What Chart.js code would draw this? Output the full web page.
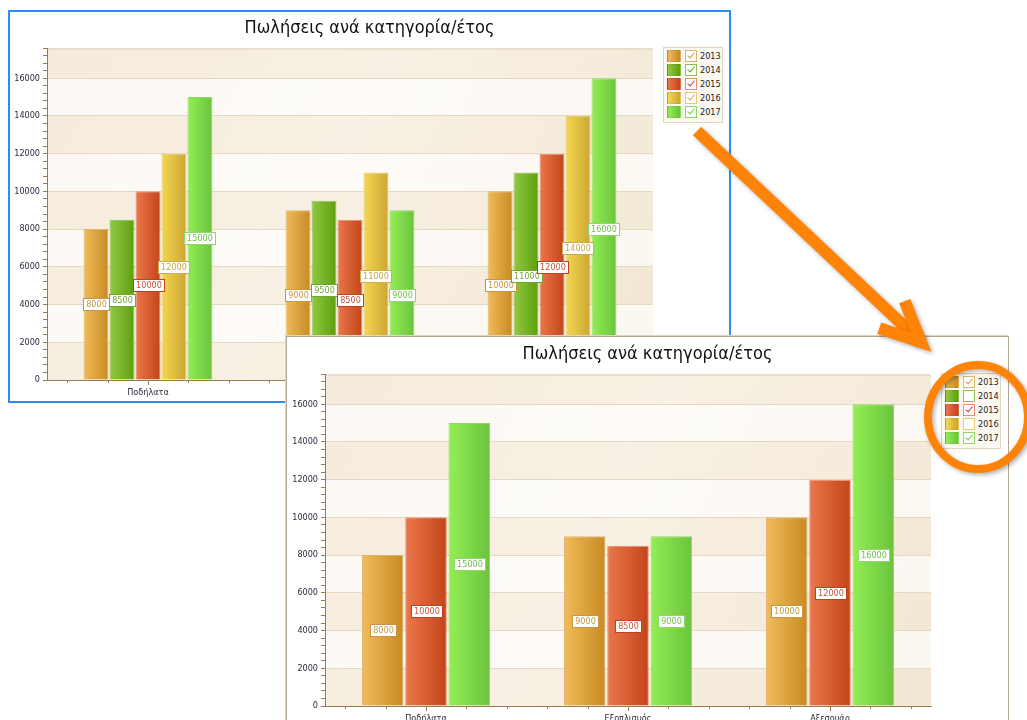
<!DOCTYPE html>
<html>
<head>
<meta charset="utf-8">
<title>Πωλήσεις ανά κατηγορία/έτος</title>
<script src="https://cdn.jsdelivr.net/npm/chart.js@4.4.1/dist/chart.umd.min.js"></script>
<style>
  html, body { margin: 0; padding: 0; background: #fff; overflow: hidden; width: 1027px; height: 720px; }
  .panel { position: absolute; width: 723px; height: 393px; background: #fff; }
  .panel canvas { position: absolute; left: 0; top: 0; }
  .frame { position: absolute; left: 0; top: 0; width: 723px; height: 393px; box-sizing: border-box; pointer-events: none; }
  #p1 { left: 8px; top: 10px; z-index: 1; }
  #p1 .frame { border: 2px solid #2E8CF2; }
  #p2 { left: 286px; top: 336px; z-index: 2; box-shadow: -1px -1px 0 #DDD4CA; }
  #p2 .frame { border: 1px solid #B3A696; }
  .title { position: absolute; left: 0; top: 6px; width: 723px; text-align: center;
           font: 18px 'DejaVu Sans Condensed', 'DejaVu Sans', sans-serif; color: #111; line-height: 22px; }
  .legend { position: absolute; left: 655px; top: 37px; width: 60px; height: 76px; box-sizing: border-box;
            border: 1px solid #E2D5BF; background: #FBF8F2; }
  .row { position: absolute; left: 0; width: 100%; height: 14px; }
  .sw { position: absolute; left: 3px; top: 1px; width: 14px; height: 12px; box-sizing: border-box; border: 1px solid rgba(0,0,0,0.06); }
  .cb { position: absolute; left: 21px; top: 1px; width: 12px; height: 12px; box-sizing: border-box; border: 1px solid; background: #fff; }
  .ck { position: absolute; left: 3px; top: 0px; width: 3px; height: 6px; border-right: 1.6px solid; border-bottom: 1.6px solid; transform: rotate(40deg); }
  .lt { position: absolute; left: 36px; top: 1px; font: 9px 'DejaVu Sans Condensed', 'DejaVu Sans', sans-serif; color: #222; line-height: 12px; }
  #marks { position: absolute; left: 0; top: 0; z-index: 5; pointer-events: none; }
</style>
</head>
<body>
<div class="panel" id="p1">
  <canvas id="c1" width="723" height="393"></canvas>
  <div class="title">Πωλήσεις ανά κατηγορία/έτος</div>
  <div class="frame"></div>
</div>
<div class="panel" id="p2">
  <canvas id="c2" width="723" height="393"></canvas>
  <div class="title">Πωλήσεις ανά κατηγορία/έτος</div>
  <div class="frame"></div>
</div>
<canvas id="marks" width="1027" height="720"></canvas>

<script>
// Product categories and yearly sales
const categories = ['Ποδήλατα', 'Εξοπλισμός', 'Αξεσουάρ'];
const years = ['2013', '2014', '2015', '2016', '2017'];
const sales2013 = [8000, 9000, 10000];
const sales2014 = [8500, 9500, 11000];
const sales2015 = [10000, 8500, 12000];
const sales2016 = [12000, 11000, 14000];
const sales2017 = [15000, 9000, 16000];
const seriesValues = [sales2013, sales2014, sales2015, sales2016, sales2017];

// Value axis
const axisMax = 17600;
const majorStep = 2000;
const minorStep = 400;

// Years switched off in the second view
const hiddenInSecond = ['2014', '2016'];

const FONT = "'DejaVu Sans Condensed', 'DejaVu Sans', sans-serif";
const AXIS = '#9C7B4A';

const palette = {
  '2013': { light: '#EFBC5A', dark: '#C98A22', edge: '#E0B46C', label: '#C89641', text: '#C6973F', check: '#D19A3E' },
  '2014': { light: '#92C943', dark: '#5C9F0D', edge: '#8CC25A', label: '#6CA92E', text: '#6FA632', check: '#5FA323' },
  '2015': { light: '#EC774C', dark: '#C3441A', edge: '#E8906E', label: '#B8441F', text: '#C2533A', check: '#C9452A' },
  '2016': { light: '#F4D752', dark: '#CDA632', edge: '#E6CC6E', label: '#CDAE4E', text: '#C8A646', check: '#D1AE45' },
  '2017': { light: '#93EE54', dark: '#6CC33D', edge: '#8BDA66', label: '#8ED86B', text: '#6EC04C', check: '#6CCB44' }
};

// Plot background: soft gradient with interlaced bands between major gridlines
const bandsPlugin = {
  id: 'bands',
  beforeDraw(chart) {
    const { ctx, chartArea: a, scales: { y } } = chart;
    ctx.save();
    const g = ctx.createLinearGradient(a.left, a.top, a.right, a.bottom);
    g.addColorStop(0, '#F7EEE2');
    g.addColorStop(0.45, '#FBF5EC');
    g.addColorStop(1, '#F3E8D7');
    ctx.fillStyle = g;
    ctx.fillRect(a.left, a.top, a.right - a.left, a.bottom - a.top);
    for (let v = 0; v < axisMax; v += majorStep) {
      const top = y.getPixelForValue(Math.min(v + majorStep, axisMax));
      const bot = y.getPixelForValue(v);
      ctx.fillStyle = (v / majorStep) % 2 === 1 ? 'rgba(255,255,255,0.62)' : 'rgba(240,226,204,0.25)';
      ctx.fillRect(a.left, top, a.right - a.left, bot - top);
    }
    ctx.strokeStyle = '#EADFCD';
    ctx.lineWidth = 2;
    ctx.beginPath();
    ctx.moveTo(a.left, a.top + 1);
    ctx.lineTo(a.right, a.top + 1);
    ctx.stroke();
    ctx.restore();
  },
  afterDraw(chart) {
    // minor tick marks along the category axis
    const { ctx, chartArea: a, scales: { x } } = chart;
    ctx.save();
    ctx.strokeStyle = AXIS;
    ctx.lineWidth = 1;
    ctx.beginPath();
    for (let j = 0; j < categories.length * 5; j++) {
      const v = -0.4 + 0.2 * j;
      if (Math.abs(v - Math.round(v)) < 1e-6) continue;
      const px = Math.round(x.getPixelForValue(v)) + 0.5;
      ctx.moveTo(px, a.bottom);
      ctx.lineTo(px, a.bottom + 3);
    }
    ctx.stroke();
    ctx.restore();
  }
};

// Horizontal shading on every bar
const barShadePlugin = {
  id: 'barShade',
  beforeDatasetsDraw(chart) {
    const ctx = chart.ctx;
    chart.data.datasets.forEach((ds, di) => {
      if (!chart.isDatasetVisible(di)) return;
      const pal = palette[ds.label];
      chart.getDatasetMeta(di).data.forEach(bar => {
        const { x, width } = bar.getProps(['x', 'width'], true);
        const g = ctx.createLinearGradient(x - width / 2, 0, x + width / 2, 0);
        g.addColorStop(0, pal.light);
        g.addColorStop(1, pal.dark);
        bar.options = Object.assign({}, bar.options, { backgroundColor: g });
      });
    });
  }
};

// Value tags in the middle of each bar
const valueTagPlugin = {
  id: 'valueTags',
  afterDatasetsDraw(chart) {
    const ctx = chart.ctx;
    ctx.save();
    ctx.font = '9px ' + FONT;
    ctx.textAlign = 'center';
    ctx.textBaseline = 'middle';
    chart.data.datasets.forEach((ds, di) => {
      if (!chart.isDatasetVisible(di)) return;
      const pal = palette[ds.label];
      chart.getDatasetMeta(di).data.forEach((bar, i) => {
        const text = String(ds.data[i]);
        const { x, y, base } = bar.getProps(['x', 'y', 'base'], true);
        const cy = (y + base) / 2;
        const w = Math.ceil(ctx.measureText(text).width) + 5;
        const h = 12;
        const lx = Math.round(x - w / 2) + 0.5;
        const ly = Math.round(cy - h / 2) + 0.5;
        ctx.fillStyle = '#FFFFFF';
        ctx.fillRect(lx, ly, w, h);
        ctx.strokeStyle = pal.label;
        ctx.lineWidth = 1;
        ctx.strokeRect(lx, ly, w, h);
        ctx.fillStyle = pal.text;
        ctx.fillText(text, lx + w / 2, ly + h / 2 + 0.5);
      });
    });
    ctx.restore();
  }
};

function buildChart(canvasId, hiddenYears) {
  const datasets = years.map((yr, i) => ({
    label: yr,
    data: seriesValues[i],
    hidden: hiddenYears.includes(yr),
    backgroundColor: palette[yr].dark,
    borderColor: palette[yr].edge,
    borderWidth: 1,
    categoryPercentage: 0.643,
    barPercentage: 0.96
  }));
  return new Chart(document.getElementById(canvasId), {
    type: 'bar',
    data: { labels: categories, datasets },
    plugins: [bandsPlugin, barShadePlugin, valueTagPlugin],
    options: {
      responsive: false,
      animation: false,
      events: [],
      layout: { padding: { left: 0, right: 78, top: 38, bottom: 0 } },
      plugins: { legend: { display: false }, tooltip: { enabled: false }, title: { display: false } },
      scales: {
        x: {
          afterFit(s) { s.height = 23; },
          grid: { offset: false, drawOnChartArea: false, tickLength: 5, tickColor: AXIS },
          border: { color: AXIS, width: 1 },
          ticks: { font: { size: 9, family: FONT }, color: '#2A2A3C', padding: 2, maxRotation: 0, autoSkip: false }
        },
        y: {
          min: 0,
          max: axisMax,
          afterFit(s) { s.width = 39; },
          grid: {
            color: c => (c.tick && c.tick.value > 0 && c.tick.value % majorStep === 0) ? '#E6D8C2' : 'rgba(0,0,0,0)',
            tickColor: AXIS,
            tickLength: 4
          },
          border: { color: AXIS, width: 1 },
          ticks: {
            stepSize: minorStep,
            autoSkip: false,
            padding: 3,
            font: { size: 9, family: FONT },
            color: '#2A2A3C',
            callback: v => (v % majorStep === 0 ? String(v) : '')
          }
        }
      }
    }
  });
}

function buildLegend(panelId, hiddenYears) {
  const box = document.createElement('div');
  box.className = 'legend';
  years.forEach((yr, i) => {
    const pal = palette[yr];
    const row = document.createElement('div');
    row.className = 'row';
    row.style.top = (1 + 14 * i) + 'px';
    const sw = document.createElement('div');
    sw.className = 'sw';
    sw.style.background = 'linear-gradient(90deg,' + pal.light + ',' + pal.dark + ')';
    const cb = document.createElement('div');
    cb.className = 'cb';
    cb.style.borderColor = pal.edge;
    if (!hiddenYears.includes(yr)) {
      const ck = document.createElement('div');
      ck.className = 'ck';
      ck.style.borderColor = pal.check;
      cb.appendChild(ck);
    }
    const lt = document.createElement('div');
    lt.className = 'lt';
    lt.textContent = yr;
    row.appendChild(sw);
    row.appendChild(cb);
    row.appendChild(lt);
    box.appendChild(row);
  });
  document.getElementById(panelId).insertBefore(box, document.querySelector('#' + panelId + ' .frame'));
}

buildChart('c1', []);
buildLegend('p1', []);
buildChart('c2', hiddenInSecond);
buildLegend('p2', hiddenInSecond);

// Callout: arrow from the first legend to the ring around the second one
(function drawCallout() {
  const m = document.getElementById('marks').getContext('2d');
  m.save();
  m.strokeStyle = '#FF8306';
  m.shadowColor = 'rgba(0,0,0,0.30)';
  m.shadowBlur = 4;
  m.shadowOffsetX = 2;
  m.shadowOffsetY = 2;

  const vx = 921, vy = 342;
  const ang = Math.atan2(vy - 131, vx - 697);
  const back = ang + Math.PI;
  const spread = 25 * Math.PI / 180;
  const arm = 44;
  m.lineWidth = 12;
  m.lineJoin = 'miter';
  m.lineCap = 'butt';
  m.beginPath();
  m.moveTo(697, 131);
  m.lineTo(vx, vy);
  m.stroke();
  m.beginPath();
  m.moveTo(vx + arm * Math.cos(back + spread), vy + arm * Math.sin(back + spread));
  m.lineTo(vx, vy);
  m.lineTo(vx + arm * Math.cos(back - spread), vy + arm * Math.sin(back - spread));
  m.stroke();

  m.lineWidth = 8;
  m.beginPath();
  m.ellipse(978, 417, 50, 52, 0, 0, Math.PI * 2);
  m.stroke();
  m.restore();
})();
</script>
</body>
</html>
